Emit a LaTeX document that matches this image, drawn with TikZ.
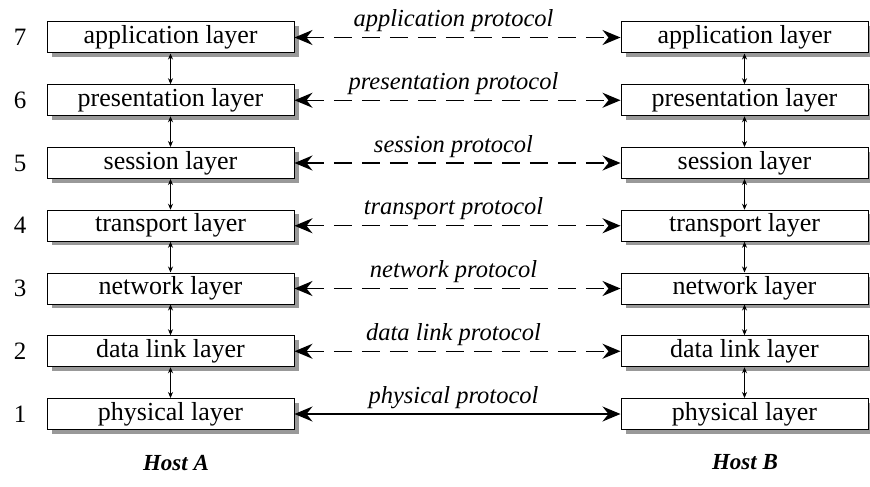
\documentclass[tikz,border=0pt]{standalone}
\usepackage{fontspec}
\setmainfont{Liberation Serif}
\usetikzlibrary{arrows.meta,shadows}
\begin{document}
\begin{tikzpicture}[x=1pt,y=-1pt,
  layerbox/.style={draw, line width=1pt, fill=white, minimum width=247pt, minimum height=31pt, inner sep=0pt,
    font=\fontsize{26}{30}\selectfont,
    general shadow={fill=black!40, shadow xshift=5pt, shadow yshift=-4pt}},
  numlabel/.style={font=\fontsize{25}{29}\selectfont, inner sep=0pt},
  protolabel/.style={font=\fontsize{24.5}{28}\selectfont\itshape, inner sep=0pt, anchor=base, yshift=11pt},
  hostlabel/.style={font=\fontsize{23}{27}\selectfont\bfseries\itshape, inner sep=0pt},
  bighead/.style={Stealth[length=18pt,width=15pt,inset=6pt]},
  proto/.style={line width=1.4pt, dash pattern=on 18pt off 10pt, {Stealth[length=18pt,width=15pt,inset=6pt]}-{Stealth[length=18pt,width=15pt,inset=6pt]}},
  physproto/.style={line width=1.2pt, {Stealth[length=18pt,width=15pt,inset=6pt]}-{Stealth[length=18pt,width=15pt,inset=6pt]}},
  vert/.style={line width=0.7pt, {Stealth[length=6pt,width=5pt]}-{Stealth[length=6pt,width=5pt]}}
]
\useasboundingbox (0,0) rectangle (870,487);
% left host
\node[layerbox] (a7) at (170.5,{37.5+0*62.75}) {application layer};
\node[layerbox] (a6) at (170.5,{37.5+1*62.75}) {presentation layer};
\node[layerbox] (a5) at (170.5,{37.5+2*62.75}) {session layer};
\node[layerbox] (a4) at (170.5,{37.5+3*62.75}) {transport layer};
\node[layerbox] (a3) at (170.5,{37.5+4*62.75}) {network layer};
\node[layerbox] (a2) at (170.5,{37.5+5*62.75}) {data link layer};
\node[layerbox] (a1) at (170.5,{37.5+6*62.75}) {physical layer};
% right host
\node[layerbox] (b7) at (744.5,{37.5+0*62.75}) {application layer};
\node[layerbox] (b6) at (744.5,{37.5+1*62.75}) {presentation layer};
\node[layerbox] (b5) at (744.5,{37.5+2*62.75}) {session layer};
\node[layerbox] (b4) at (744.5,{37.5+3*62.75}) {transport layer};
\node[layerbox] (b3) at (744.5,{37.5+4*62.75}) {network layer};
\node[layerbox] (b2) at (744.5,{37.5+5*62.75}) {data link layer};
\node[layerbox] (b1) at (744.5,{37.5+6*62.75}) {physical layer};
% numbers
\node[numlabel] (n7) at (20,{37.5+0*62.75}) {7};
\node[numlabel] (n6) at (20,{37.5+1*62.75}) {6};
\node[numlabel] (n5) at (20,{37.5+2*62.75}) {5};
\node[numlabel] (n4) at (20,{37.5+3*62.75}) {4};
\node[numlabel] (n3) at (20,{37.5+4*62.75}) {3};
\node[numlabel] (n2) at (20,{37.5+5*62.75}) {2};
\node[numlabel] (n1) at (20,{37.5+6*62.75}) {1};
% vertical arrows
\foreach \u/\l in {7/6,6/5,5/4,4/3,3/2,2/1}{
  \draw[vert] (a\u.south) -- (a\l.north);
  \draw[vert] (b\u.south) -- (b\l.north);
}
% protocols
\draw[proto] (a7.east) -- (b7.west) node[midway, protolabel, xshift=-4pt] (p7) {application protocol};
\draw[proto] (a6.east) -- (b6.west) node[midway, protolabel, xshift=-4pt] (p6) {presentation protocol};
\draw[proto] (a5.east) -- (b5.west) node[midway, protolabel, xshift=-4pt] (p5) {session protocol};
\draw[proto] (a4.east) -- (b4.west) node[midway, protolabel, xshift=-4pt] (p4) {transport protocol};
\draw[proto] (a3.east) -- (b3.west) node[midway, protolabel, xshift=-4pt] (p3) {network protocol};
\draw[proto] (a2.east) -- (b2.west) node[midway, protolabel, xshift=-4pt] (p2) {data link protocol};
\draw[physproto] (a1.east) -- (b1.west) node[midway, protolabel, xshift=-4pt] (p1) {physical protocol};
% hosts
\node[hostlabel] (hA) at (176,463) {Host A};
\node[hostlabel] (hB) at (745,462) {Host B};
\end{tikzpicture}
\end{document}
